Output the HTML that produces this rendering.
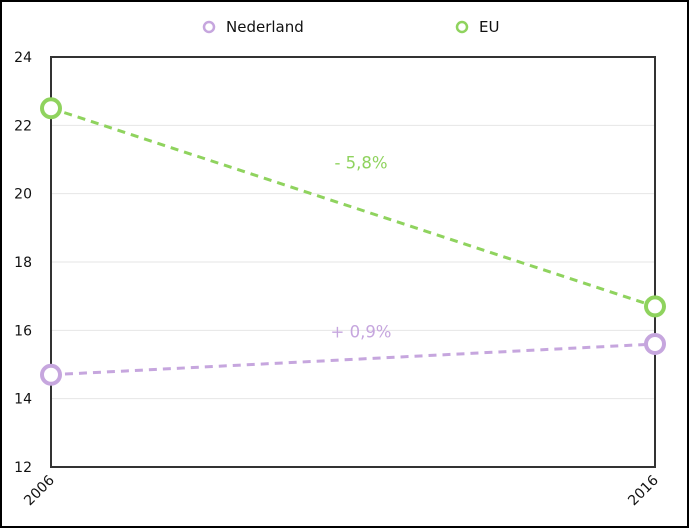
<!DOCTYPE html>
<html><head><meta charset="utf-8"><style>
body{margin:0;background:#fff;}
svg{display:block;font-family:"DejaVu Sans","Liberation Sans",sans-serif;}
</style></head><body>
<svg id="chart" width="689" height="528">
<rect x="1" y="1" width="687" height="526" fill="#fff" stroke="#000" stroke-width="2"/>
<g>
<g>
<circle cx="209" cy="27" r="5" fill="#fff" stroke="#c6a6de" stroke-width="2.5"/>
<text x="226" y="32" font-size="15" fill="#111">Nederland</text></g>
<g>
<circle cx="462" cy="27" r="5" fill="#fff" stroke="#8fd35e" stroke-width="2.5"/>
<text x="479" y="32" font-size="15" fill="#111">EU</text></g>
</g>
<g id="grid"></g><g id="axes"></g><g id="series"></g>
</svg>
<script>
const years=['2006','2016'];
const nederland=[14.7,15.6];
const eu=[22.5,16.7];
const yTicks=[12,14,16,18,20,22,24];
const annotations=['- 5,8%','+ 0,9%'];
const L=51,R=655,T=57,B=467,ymin=12,ymax=24;
const NS='http://www.w3.org/2000/svg';
const xs=i=>L+i*(R-L)/(years.length-1);
const ys=v=>B-(v-ymin)/(ymax-ymin)*(B-T);
function mk(t,a,p){const e=document.createElementNS(NS,t);for(const k in a)e.setAttribute(k,a[k]);p.appendChild(e);return e;}
const grid=document.getElementById('grid'),axes=document.getElementById('axes'),series=document.getElementById('series');
yTicks.forEach(v=>{
 if(v!==ymin&&v!==ymax){const g=mk('line',{x1:L,x2:R,y1:ys(v),y2:ys(v),stroke:'#e6e6e6','stroke-width':1},grid);
 
 }
 const t=mk('text',{x:L-19,y:ys(v)+5,'font-size':14,'text-anchor':'end',fill:'#111'},axes);t.textContent=v;
 
 
});
const fr=mk('rect',{x:L,y:T,width:R-L,height:B-T,fill:'none',stroke:'#333','stroke-width':2},axes);


years.forEach((y,i)=>{const t=mk('text',{x:xs(i)+4,y:B+14,'font-size':14,'text-anchor':'end',fill:'#111',transform:`rotate(-45 ${xs(i)+4} ${B+14})`},axes);t.textContent=y;
 
 });
function draw(vals,color,name,label){
 const pts=vals.map((v,i)=>xs(i)+','+ys(v)).join(' ');
 const l=mk('polyline',{points:pts,fill:'none',stroke:color,'stroke-width':3,'stroke-dasharray':'8,6'},series);
 
 
 vals.forEach((v,i)=>{const c=mk('circle',{cx:xs(i),cy:ys(v),r:9,fill:'#fff',stroke:color,'stroke-width':4},series);
  
  });
 const mid=(vals[0]+vals[vals.length-1])/2;
 const t=mk('text',{x:(L+R)/2+8,y:ys(mid)-5+(name==='eu'?-34:0)+(name==='nederland'?-17:0),'font-size':16.5,'text-anchor':'middle',fill:color},series);t.textContent=label;
 
 
}
draw(eu,'#8fd35e','eu',annotations[0]);
draw(nederland,'#c6a6de','nederland',annotations[1]);
</script>
</body></html>
